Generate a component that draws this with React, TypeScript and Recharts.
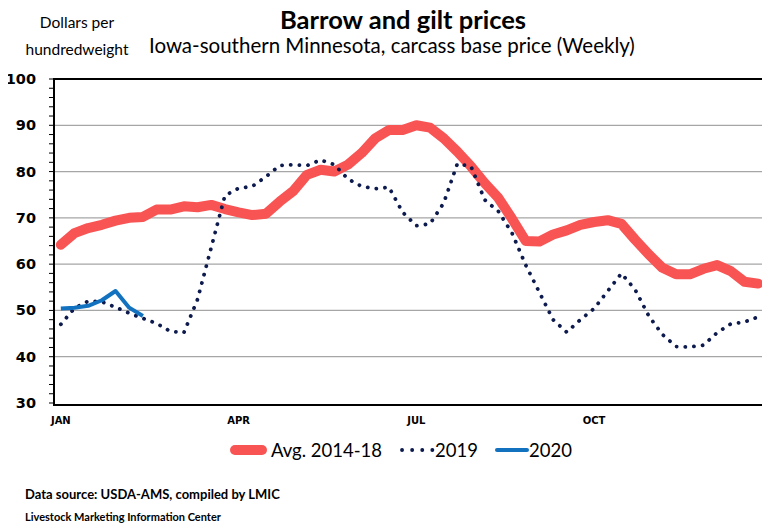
import React from 'react';
import { LineChart, Line, XAxis, YAxis, CartesianGrid } from 'recharts';

// weekly series, week 0 = first week of January
const AVG_2014_18 = [
  64.2, 66.7, 67.8, 68.5, 69.4, 70.0, 70.2, 71.8, 71.8, 72.5, 72.3, 72.8, 71.9,
  71.2, 70.6, 70.9, 73.5, 75.8, 79.3, 80.4, 80.0, 81.5, 84.0, 87.2, 89.0, 89.0,
  90.0, 89.5, 87.2, 84.3, 81.1, 77.5, 74.3, 69.8, 65.0, 64.9, 66.4, 67.3, 68.5,
  69.1, 69.5, 68.7, 65.3, 62.1, 59.2, 57.8, 57.8, 59.0, 59.8, 58.5, 56.2, 55.8,
];
const Y2019 = [
  47.0, 50.5, 52.0, 51.9, 50.7, 49.4, 48.3, 47.2, 45.5, 45.2, 52.4, 63.6, 74.8,
  76.4, 76.8, 78.9, 81.3, 81.5, 81.3, 82.5, 81.5, 78.4, 76.8, 76.3, 76.6, 71.2,
  68.3, 68.7, 73.2, 81.7, 81.1, 73.9, 71.4, 66.7, 59.8, 53.9, 48.0, 45.3, 48.0,
  50.4, 54.2, 58.0, 54.5, 48.8, 44.8, 42.2, 42.1, 42.5, 45.2, 47.1, 47.5, 48.6,
];
const Y2020 = [50.4, 50.6, 51.0, 52.2, 54.2, 50.6, 48.8];

const MONTH_LABELS = ['JAN', 'APR', 'JUL', 'OCT'];
const MONTH_WEEKS = [0, 13, 26, 39];
const Y_TICKS = Array.from({ length: 36 }, (_, i) => 30 + i * 2);
const GRID_VALUES = [40, 50, 60, 70, 80, 90];

const data = AVG_2014_18.map((v, i) => ({
  week: i,
  avg: v,
  y2019: Y2019[i],
  y2020: i < Y2020.length ? Y2020[i] : null,
}));
const weekEdges = Array.from({ length: AVG_2014_18.length + 1 }, (_, i) => i - 0.5);
const FONT = 'Lato, "Open Sans", sans-serif';
const AXIS_FONT = '"DejaVu Sans", Verdana, sans-serif';

const YTick = (props: any) => {
  const { x, y, payload } = props;
  if (payload.value % 10 !== 0) return null;
  return (
    <text x={x} y={y} dy={5} textAnchor="end" fontSize={14.5} fontWeight="bold" fill="#000" fontFamily={AXIS_FONT}>
      {payload.value}
    </text>
  );
};

const LegendItem = ({ icon, label, gap }: { icon: React.ReactNode; label: string; gap: number }) => (
  <div style={{ display: 'flex', alignItems: 'center', marginRight: gap }}>
    {icon}
    <span>{label}</span>
  </div>
);

export default function App() {
  return (
    <div style={{ position: 'relative', width: 770, height: 531, margin: -8, background: '#fff', fontFamily: FONT, color: '#000' }}>
      <div style={{ position: 'absolute', left: 0, width: 806, top: 4, textAlign: 'center', fontSize: 25.5, fontWeight: 'bold' }}>
        Barrow and gilt prices
      </div>
      <div style={{ position: 'absolute', left: 149, top: 33, fontSize: 20.5 }}>
        Iowa-southern Minnesota, carcass base price (Weekly)
      </div>
      <div style={{ position: 'absolute', left: 2, width: 150, top: 9, textAlign: 'center', fontSize: 15.5, lineHeight: '27px' }}>
        Dollars per
        <br />
        hundredweight
      </div>

      <div style={{ position: 'absolute', left: 0, top: 0 }}>
        <LineChart width={770} height={531} data={data} margin={{ top: 79, right: 5, left: 0, bottom: 108 }}>
          <CartesianGrid
            xAxisId="main"
            yAxisId="left"
            vertical={false}
            stroke="#a6a6a6"
            strokeWidth={1.3}
            horizontalValues={GRID_VALUES}
          />
          <XAxis
            xAxisId="main"
            dataKey="week"
            type="number"
            domain={[-0.5, 51.5]}
            ticks={weekEdges}
            tickFormatter={() => ''}
            height={0}
            tickSize={4}
            axisLine={{ stroke: '#000', strokeWidth: 2 }}
            tickLine={{ stroke: '#000' }}
          />
          <XAxis
            xAxisId="lab"
            dataKey="week"
            type="number"
            domain={[-0.5, 51.5]}
            ticks={MONTH_WEEKS}
            tickFormatter={(v: number) => MONTH_LABELS[MONTH_WEEKS.indexOf(v)] ?? ''}
            height={20}
            axisLine={false}
            tickLine={false}
            tickMargin={8}
            tick={{ fontSize: 10, fontWeight: 'bold', fill: '#000', fontFamily: AXIS_FONT }}
          />
          <YAxis
            yAxisId="left"
            domain={[30, 100]}
            ticks={Y_TICKS}
            interval={0}
            width={54}
            tickSize={5}
            tickMargin={13}
            tick={<YTick />}
            axisLine={{ stroke: '#000', strokeWidth: 2 }}
            tickLine={{ stroke: '#000' }}
          />
          <Line
            xAxisId="main"
            yAxisId="left"
            type="linear"
            dataKey="avg"
            stroke="#f95454"
            strokeWidth={10}
            strokeLinejoin="round"
            strokeLinecap="round"
            dot={false}
            isAnimationActive={false}
          />
          <Line
            xAxisId="main"
            yAxisId="left"
            type="linear"
            dataKey="y2019"
            stroke="#0d1a4d"
            strokeWidth={3.8}
            strokeDasharray="0.1 8.6"
            strokeLinecap="round"
            dot={false}
            isAnimationActive={false}
          />
          <Line
            xAxisId="main"
            yAxisId="left"
            type="linear"
            dataKey="y2020"
            stroke="#1272c0"
            strokeWidth={4}
            strokeLinejoin="round"
            dot={false}
            connectNulls={false}
            isAnimationActive={false}
          />
        </LineChart>
      </div>

      {/* plot frame */}
      <div style={{ position: 'absolute', left: 53, top: 78, width: 711, height: 324, border: '2px solid #000', pointerEvents: 'none' }} />

      <div style={{ position: 'absolute', left: 230, top: 439, display: 'flex', fontSize: 18.5 }}>
        <LegendItem
          gap={18}
          icon={<svg width={41} height={14}><line x1={5} y1={7} x2={32} y2={7} stroke="#f95454" strokeWidth={10} strokeLinecap="round" /></svg>}
          label="Avg. 2014-18"
        />
        <LegendItem
          gap={17}
          icon={<svg width={35} height={14}><line x1={2} y1={7} x2={34} y2={7} stroke="#0d1a4d" strokeWidth={3.8} strokeDasharray="0.1 10" strokeLinecap="round" /></svg>}
          label="2019"
        />
        <LegendItem
          gap={0}
          icon={<svg width={34} height={14}><line x1={2} y1={7} x2={32} y2={7} stroke="#1272c0" strokeWidth={4} strokeLinecap="round" /></svg>}
          label="2020"
        />
      </div>

      <div style={{ position: 'absolute', left: 25, top: 486, fontSize: 13, fontWeight: 'bold' }}>
        Data source: USDA-AMS, compiled by LMIC
      </div>
      <div style={{ position: 'absolute', left: 25, top: 510, fontSize: 11, fontWeight: 'bold' }}>
        Livestock Marketing Information Center
      </div>
    </div>
  );
}
